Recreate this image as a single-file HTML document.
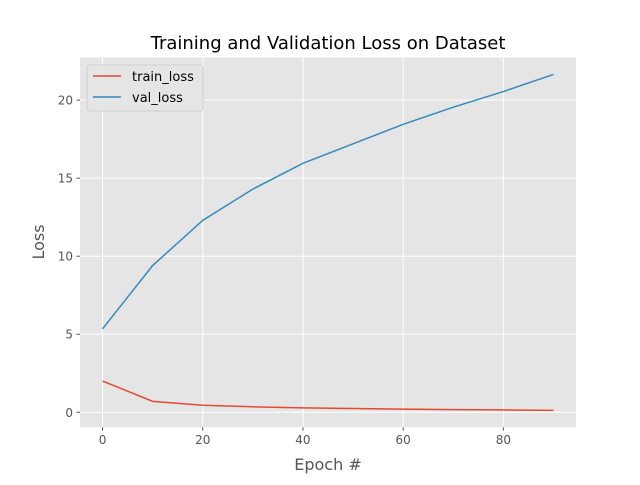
<!DOCTYPE html>
<html><head><meta charset="utf-8"><style>
body{margin:0;background:#fff;font-family:"Liberation Sans","DejaVu Sans",sans-serif}
svg text{font-family:"DejaVu Sans","Liberation Sans",sans-serif}
</style></head><body>
<svg id="chart" width="640" height="480" xmlns="http://www.w3.org/2000/svg">
<rect width="640" height="480" fill="#fff"/>
<rect x="80" y="57.6" width="496" height="369.6" fill="#e5e5e5"/>
<g id="grid"></g>
<g id="ticks"></g>
<g id="lines"></g>
<text x="328" y="49" font-size="18" text-anchor="middle" fill="#000">Training and Validation Loss on Dataset</text>
<text x="328" y="470" font-size="16" text-anchor="middle" fill="#555">Epoch #</text>
<text transform="translate(44,242) rotate(-90)" font-size="16" text-anchor="middle" fill="#555">Loss</text>
<g>
<rect x="87" y="65" width="116" height="46" fill="#e5e5e5" stroke="#ccc" rx="3" opacity="0.9"/>
<line x1="93" y1="76" x2="121" y2="76" stroke="#E24A33" stroke-width="1.5"/>
<text x="132" y="81" font-size="13" fill="#000">train_loss</text>
<line x1="93" y1="97" x2="121" y2="97" stroke="#348ABD" stroke-width="1.5"/>
<text x="132" y="102" font-size="13" fill="#000">val_loss</text>
</g>
</svg>
<script>
const epochs=[0,10,20,30,40,50,60,70,80,90];
const trainLoss=[2.0,0.7,0.45,0.35,0.28,0.24,0.2,0.17,0.15,0.12];
const valLoss=[5.35,9.4,12.3,14.3,15.95,17.2,18.45,19.55,20.55,21.65];
const xTicks=[0,20,40,60,80];
const yTicks=[0,5,10,15,20];
const NS="http://www.w3.org/2000/svg";
const all=trainLoss.concat(valLoss);
const xmin=Math.min(...epochs),xmax=Math.max(...epochs),xm=(xmax-xmin)*0.05;
const ymin0=Math.min(...all),ymax0=Math.max(...all),ym=(ymax0-ymin0)*0.05;
const L=80,R=576,T=57.6,B=427.2;
const X=v=>L+(v-(xmin-xm))/((xmax+xm)-(xmin-xm))*(R-L);
const Y=v=>B-(v-(ymin0-ym))/((ymax0+ym)-(ymin0-ym))*(B-T);
const grid=document.getElementById('grid'),ticks=document.getElementById('ticks'),lines=document.getElementById('lines');
function mk(t,a,p){const e=document.createElementNS(NS,t);for(const k in a)e.setAttribute(k,a[k]);p.appendChild(e);return e;}
xTicks.forEach(v=>{
 const g=mk('line',{x1:X(v),x2:X(v),y1:T,y2:B,stroke:'#fff','stroke-width':1},grid);
 
 
 const tk=mk('line',{x1:X(v),x2:X(v),y1:B,y2:B+3.5,stroke:'#555'},ticks);
 
 
 const t=mk('text',{x:X(v),y:B+17,'font-size':12,'text-anchor':'middle',fill:'#555'},ticks);
 t.textContent=v;
 
 
});
yTicks.forEach(v=>{
 const g=mk('line',{x1:L,x2:R,y1:Y(v),y2:Y(v),stroke:'#fff','stroke-width':1},grid);
 
 
 const tk=mk('line',{x1:L-3.5,x2:L,y1:Y(v),y2:Y(v),stroke:'#555'},ticks);
 
 
 const t=mk('text',{x:L-7,y:Y(v)+4.5,'font-size':12,'text-anchor':'end',fill:'#555'},ticks);
 t.textContent=v;
 
 
});
function series(vals,color,name){
 const p=mk('polyline',{points:epochs.map((e,i)=>X(e)+','+Y(vals[i])).join(' '),fill:'none',stroke:color,'stroke-width':1.5},lines);
 
 
}
series(trainLoss,'#E24A33','train-loss-line');
series(valLoss,'#348ABD','val-loss-line');
</script>
</body></html>
